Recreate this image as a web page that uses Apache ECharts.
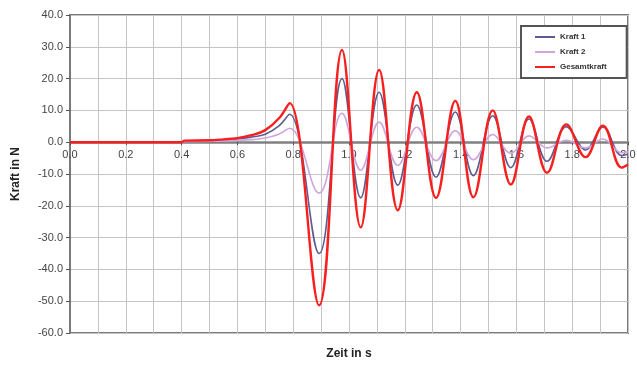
<!DOCTYPE html>
<html>
<head>
<meta charset="utf-8">
<script src="https://cdn.jsdelivr.net/npm/echarts@6/dist/echarts.min.js"></script>
<style>html,body{margin:0;padding:0;background:#fff}#c{width:637px;height:365px}</style>
</head>
<body>
<div id="c"></div>
<script>
// Time in s (rise section, then extrema of the oscillation)
var zeit = [0, 0.40, 0.41, 0.50, 0.55, 0.60, 0.65, 0.70, 0.75, 0.787,
  0.893, 0.975, 1.042, 1.108, 1.175, 1.243, 1.312, 1.381, 1.446, 1.515,
  1.580, 1.645, 1.710, 1.779, 1.848, 1.910, 1.977, 2.0];
// Force in N
var kraft1 = [0, 0, 0.3, 0.5, 0.7, 1.0, 1.6, 2.5, 5.2, 8.8,
  -35.0, 20.0, -17.5, 15.7, -13.5, 11.7, -11.0, 9.5, -10.5, 8.3,
  -8.0, 7.3, -6.0, 4.9, -2.4, 4.8, -4.2, -3.8];
var kraft2 = [0, 0, 0.2, 0.3, 0.4, 0.6, 0.8, 1.3, 2.6, 4.4,
  -16.0, 9.1, -8.8, 6.3, -7.3, 4.7, -5.8, 3.6, -5.5, 2.4,
  -3.5, 2.0, -1.8, 0.6, -1.8, 1.0, -3.3, -3.0];
var gesamtkraft = [0, 0, 0.5, 0.6, 0.9, 1.3, 2.2, 3.8, 7.6, 12.3,
  -51.3, 29.0, -26.8, 22.7, -21.4, 15.7, -17.5, 13.0, -17.3, 10.0,
  -13.3, 8.1, -9.6, 5.6, -4.7, 5.2, -8.0, -7.0];
var seriesNames = ['Kraft 1', 'Kraft 2', 'Gesamtkraft'];
var yTicks = {min: -60, max: 40, step: 10};
var xTicks = {min: 0, max: 2, step: 0.2};

function pairs(vals) { return zeit.map(function (t, i) { return [t, vals[i]]; }); }

var gridBox = {left: 70, top: 15, width: 558, height: 318};
// distance of the zero line above the plot bottom (layout only)
var zeroOffset = gridBox.height * (0 - yTicks.min) / (yTicks.max - yTicks.min);

var chart = echarts.init(document.getElementById('c'), null, {renderer: 'canvas'});
var font = '"Liberation Sans", Arial, sans-serif';
var fmt1 = function (v) { return v.toFixed(1); };
chart.setOption({
  animation: false,
  backgroundColor: '#ffffff',
  textStyle: {fontFamily: font},
  grid: {left: gridBox.left, top: gridBox.top, width: gridBox.width, height: gridBox.height,
    show: true, containLabel: false, outerBoundsMode: 'none',
    borderColor: '#7a7a7a', borderWidth: 2, backgroundColor: 'transparent'},
  legend: {
    orient: 'vertical', left: 521, top: 26,
    data: seriesNames,
    icon: 'rect', itemWidth: 20, itemHeight: 2, itemGap: 7,
    padding: [7, 20, 7, 14],
    backgroundColor: '#fff', borderColor: '#555', borderWidth: 2,
    textStyle: {fontSize: 8, color: '#333', fontWeight: 'bold', fontFamily: font}
  },
  xAxis: [{
    type: 'value', min: xTicks.min, max: xTicks.max, interval: xTicks.step,
    name: 'Zeit in s', nameLocation: 'middle', nameGap: 15,
    nameTextStyle: {fontWeight: 'bold', fontSize: 12, color: '#222', fontFamily: font},
    axisLine: {onZero: true, lineStyle: {color: '#808080', width: 2.5}},
    axisTick: {show: true, length: 3, lineStyle: {color: '#555'}},
    axisLabel: {show: false},
    splitLine: {show: true, lineStyle: {color: '#c4c4c4', width: 1}},
    minorTick: {show: false, splitNumber: 2},
    minorSplitLine: {show: true, lineStyle: {color: '#c4c4c4', width: 1}}
  }, {
    type: 'value', min: xTicks.min, max: xTicks.max, interval: xTicks.step,
    position: 'bottom', offset: -zeroOffset,
    axisLine: {show: false, onZero: false},
    axisTick: {show: false},
    splitLine: {show: false},
    axisLabel: {margin: 7, fontSize: 11, color: '#444', formatter: fmt1}
  }],
  yAxis: {
    type: 'value', min: yTicks.min, max: yTicks.max, interval: yTicks.step,
    name: 'Kraft in N', nameLocation: 'middle', nameGap: 48,
    nameTextStyle: {fontWeight: 'bold', fontSize: 12, color: '#222', fontFamily: font},
    axisLine: {show: true, lineStyle: {color: '#7a7a7a', width: 2}},
    axisTick: {show: true, length: 4, lineStyle: {color: '#555'}},
    axisLabel: {margin: 7, fontSize: 11, color: '#444', formatter: fmt1},
    splitLine: {show: true, lineStyle: {color: '#c4c4c4', width: 1}}
  },
  series: [
    {name: seriesNames[0], type: 'line', data: pairs(kraft1), smooth: 0.4,
      showSymbol: false, lineStyle: {color: '#5c5c90', width: 1.6}, itemStyle: {color: '#5c5c90'}},
    {name: seriesNames[1], type: 'line', data: pairs(kraft2), smooth: 0.4,
      showSymbol: false, lineStyle: {color: '#d0a4de', width: 1.6}, itemStyle: {color: '#d0a4de'}},
    {name: seriesNames[2], type: 'line', data: pairs(gesamtkraft), smooth: 0.4,
      showSymbol: false, lineStyle: {color: '#f81f1f', width: 2.4}, itemStyle: {color: '#f81f1f'}}
  ]
});
</script>
</body>
</html>
